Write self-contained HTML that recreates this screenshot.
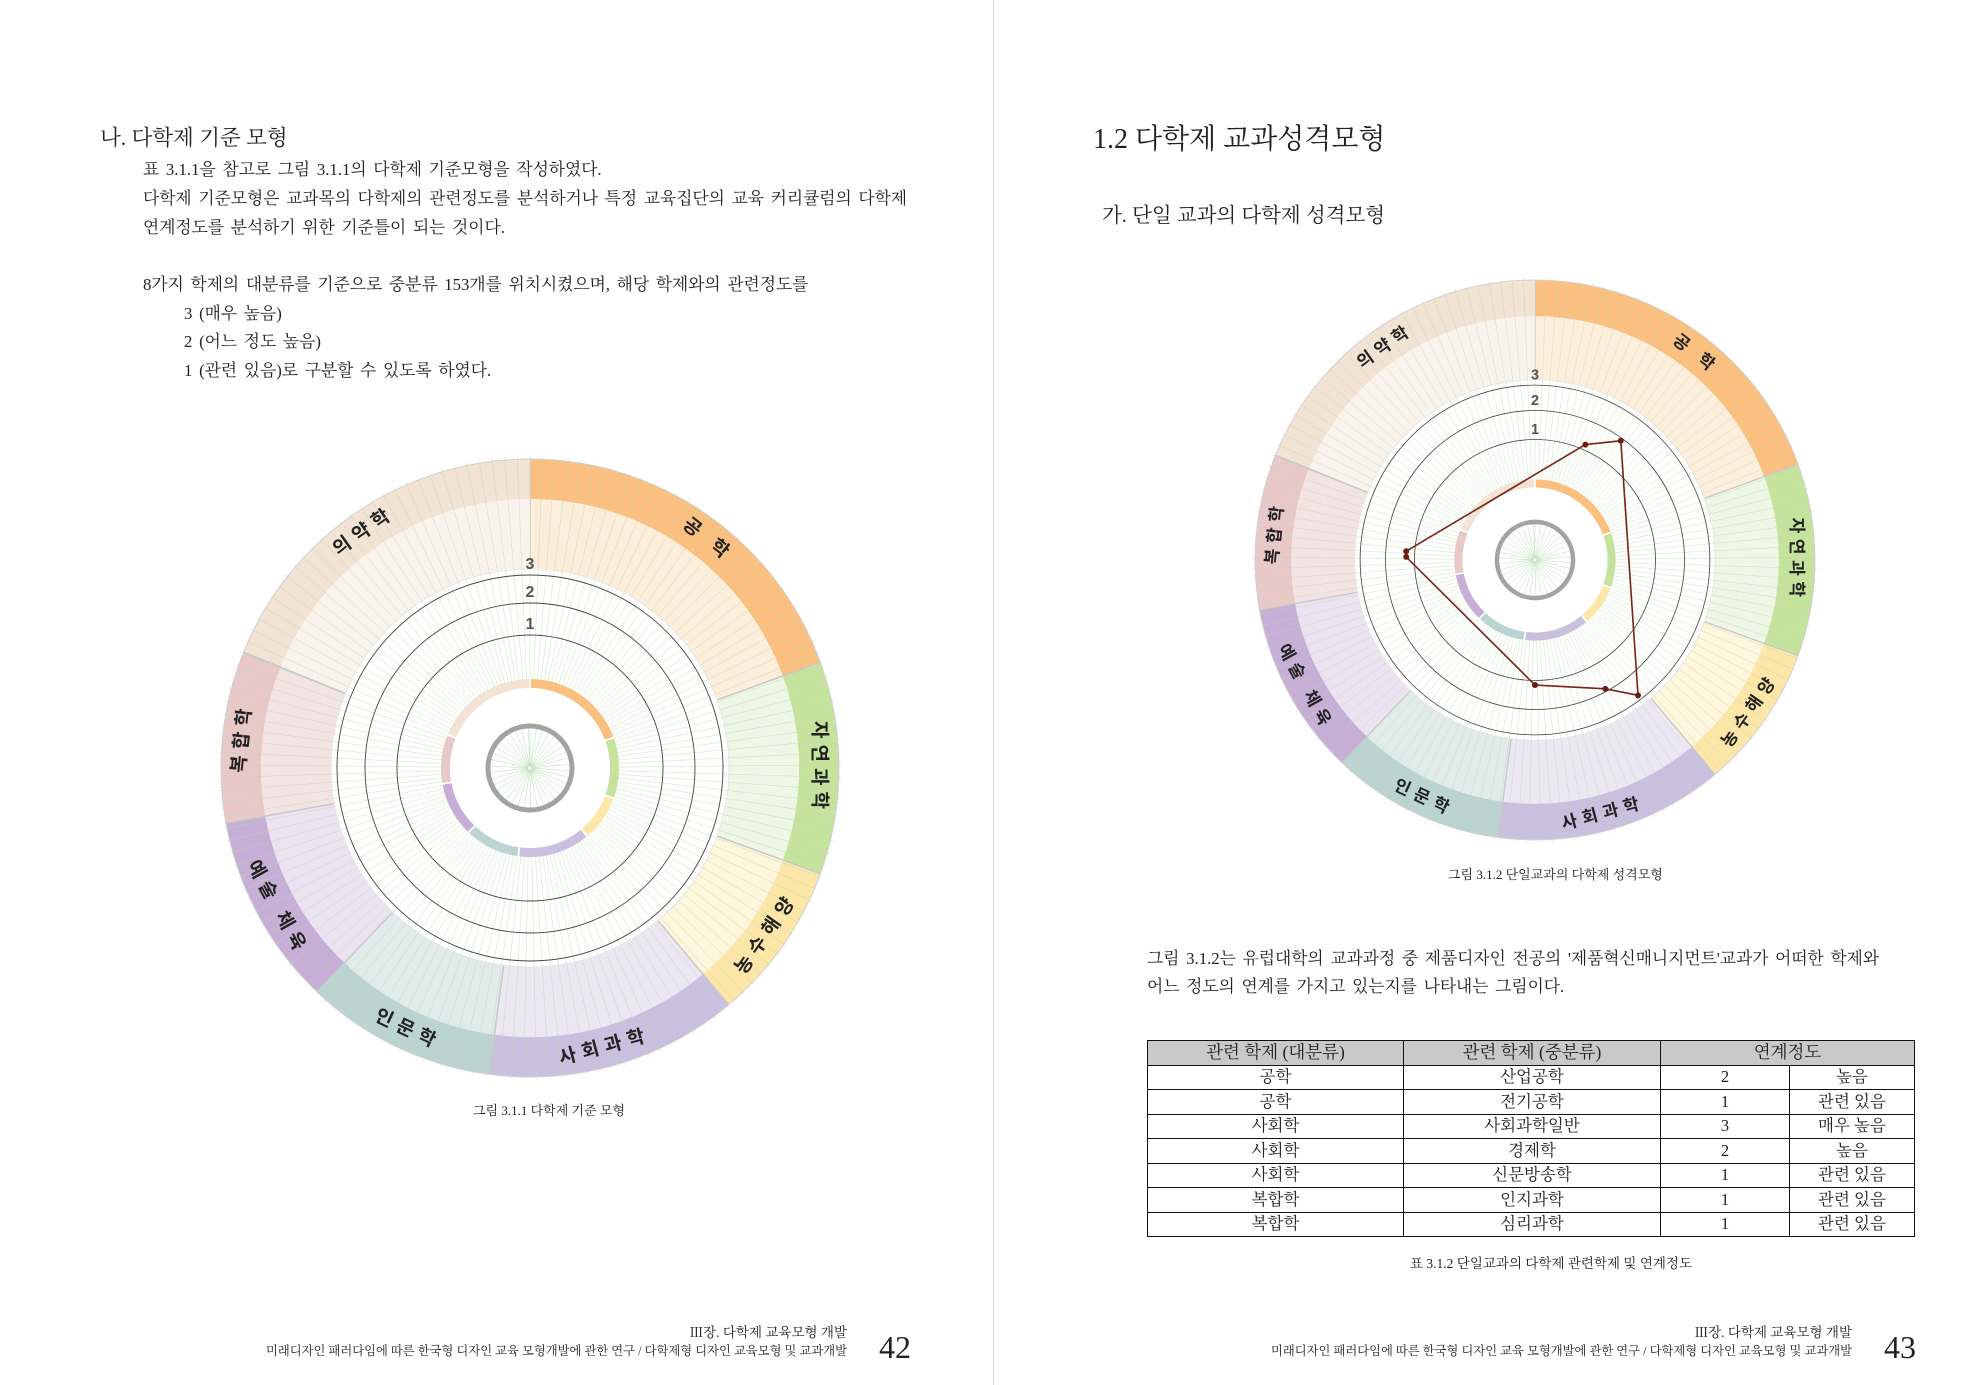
<!DOCTYPE html>
<html><head><meta charset="utf-8">
<style>
body{margin:0;background:#fff;}
#pg{position:relative;width:1976px;height:1385px;overflow:hidden;background:#fff;font-family:"Liberation Serif","Noto Serif CJK SC",serif;color:#222;}
.t{position:absolute;white-space:nowrap;line-height:1;}
.b{font-size:16.8px;word-spacing:2.5px;}
table{position:absolute;left:1147px;top:1040px;width:768px;border-collapse:collapse;font-size:16.5px;line-height:1;}
td,th{border:1.5px solid #111;height:23.5px;padding:0;text-align:center;font-weight:normal;}
th{background:#c9c9c9;font-size:17.5px;}
svg{position:absolute;left:0;top:0;}
</style></head><body><div id="pg">
<div style="position:absolute;left:993px;top:0;width:1px;height:1385px;background:#ddd"></div>

<div class="t" style="left:100px;top:128px;font-size:21.5px">나. 다학제 기준 모형</div>
<div class="t b" style="left:143px;top:162px">표 3.1.1을 참고로 그림 3.1.1의 다학제 기준모형을 작성하였다.</div>
<div class="t b" style="left:143px;top:191px">다학제 기준모형은 교과목의 다학제의 관련정도를 분석하거나 특정 교육집단의 교육 커리큘럼의 다학제</div>
<div class="t b" style="left:143px;top:220px">연계정도를 분석하기 위한 기준틀이 되는 것이다.</div>
<div class="t b" style="left:143px;top:277px">8가지 학제의 대분류를 기준으로 중분류 153개를 위치시켰으며, 해당 학제와의 관련정도를</div>
<div class="t b" style="left:184px;top:306px">3 (매우 높음)</div>
<div class="t b" style="left:184px;top:334px">2 (어느 정도 높음)</div>
<div class="t b" style="left:184px;top:363px">1 (관련 있음)로 구분할 수 있도록 하였다.</div>
<div class="t" style="left:473px;top:1104px;font-size:13px">그림 3.1.1 다학제 기준 모형</div>

<div class="t" style="left:1093px;top:126px;font-size:28px">1.2 다학제 교과성격모형</div>
<div class="t" style="left:1102px;top:206px;font-size:20.5px">가. 단일 교과의 다학제 성격모형</div>
<div class="t" style="left:1448px;top:868px;font-size:13px">그림 3.1.2 단일교과의 다학제 성격모형</div>
<div class="t b" style="left:1147px;top:951px">그림 3.1.2는 유럽대학의 교과과정 중 제품디자인 전공의 '제품혁신매니지먼트'교과가 어떠한 학제와</div>
<div class="t b" style="left:1147px;top:979px">어느 정도의 연계를 가지고 있는지를 나타내는 그림이다.</div>

<table>
<tr><th style="width:255px">관련 학제 (대분류)</th><th style="width:256px">관련 학제 (중분류)</th><th colspan="2">연계정도</th></tr>
<tr><td>공학</td><td>산업공학</td><td style="width:128px">2</td><td>높음</td></tr>
<tr><td>공학</td><td>전기공학</td><td>1</td><td>관련 있음</td></tr>
<tr><td>사회학</td><td>사회과학일반</td><td>3</td><td>매우 높음</td></tr>
<tr><td>사회학</td><td>경제학</td><td>2</td><td>높음</td></tr>
<tr><td>사회학</td><td>신문방송학</td><td>1</td><td>관련 있음</td></tr>
<tr><td>복합학</td><td>인지과학</td><td>1</td><td>관련 있음</td></tr>
<tr><td>복합학</td><td>심리과학</td><td>1</td><td>관련 있음</td></tr>
</table>
<div class="t" style="left:1410px;top:1257px;font-size:13.5px">표 3.1.2 단일교과의 다학제 관련학제 및 연계정도</div>

<div class="t" style="right:1129px;top:1326px;font-size:13.5px">Ⅲ장. 다학제 교육모형 개발</div>
<div class="t" style="right:1129px;top:1345px;font-size:12.3px">미래디자인 패러다임에 따른 한국형 디자인 교육 모형개발에 관한 연구 / 다학제형 디자인 교육모형 및 교과개발</div>
<div class="t" style="left:879px;top:1331px;font-size:32px">42</div>
<div class="t" style="right:124px;top:1326px;font-size:13.5px">Ⅲ장. 다학제 교육모형 개발</div>
<div class="t" style="right:124px;top:1345px;font-size:12.3px">미래디자인 패러다임에 따른 한국형 디자인 교육 모형개발에 관한 연구 / 다학제형 디자인 교육모형 및 교과개발</div>
<div class="t" style="left:1884px;top:1331px;font-size:32px">43</div>

<svg width="1976" height="1385" xmlns="http://www.w3.org/2000/svg" font-family="Liberation Sans,Noto Sans CJK KR,sans-serif">
<g id="c1" transform="translate(530,768)">
 <g class="geo"></g>
 <g class="lab" font-size="19" font-weight="bold" fill="#222" text-anchor="middle" dominant-baseline="central" letter-spacing="6">
  <text transform="rotate(38) translate(0,-289)">공 학</text>
  <text transform="rotate(90) translate(0,-289)">자연과학</text>
  <text transform="rotate(-55) translate(0,289)">농수해양</text>
  <text transform="rotate(-15) translate(0,289)">사회과학</text>
  <text transform="rotate(25) translate(0,289)">인문학</text>
  <text transform="rotate(61) translate(0,289)">예술 체육</text>
  <text transform="rotate(-84) translate(0,-289)">복합학</text>
  <text transform="rotate(-35) translate(0,-289)">의약학</text>
 </g>
 <g font-size="16" font-weight="bold" fill="#555" text-anchor="middle">
  <text x="0" y="-199">3</text><text x="0" y="-171">2</text><text x="0" y="-139">1</text>
 </g>
</g>
<g id="c2" transform="translate(1535,560) scale(0.906)">
 <g class="geo"></g>
 <g class="lab" font-size="19" font-weight="bold" fill="#222" text-anchor="middle" dominant-baseline="central" letter-spacing="6">
  <text transform="rotate(38) translate(0,-289)">공 학</text>
  <text transform="rotate(90) translate(0,-289)">자연과학</text>
  <text transform="rotate(-55) translate(0,289)">농수해양</text>
  <text transform="rotate(-15) translate(0,289)">사회과학</text>
  <text transform="rotate(25) translate(0,289)">인문학</text>
  <text transform="rotate(61) translate(0,289)">예술 체육</text>
  <text transform="rotate(-84) translate(0,-289)">복합학</text>
  <text transform="rotate(-35) translate(0,-289)">의약학</text>
 </g>
 <g font-size="16" font-weight="bold" fill="#555" text-anchor="middle">
  <text x="0" y="-199">3</text><text x="0" y="-171">2</text><text x="0" y="-139">1</text>
 </g>
 <polygon points="55.6,-127.4 94.7,-131.6 113.7,149.4 77.7,142.2 0,138 -142.2,-3.4 -142.2,-9.7" fill="none" stroke="#7a2518" stroke-width="1.8"/>
 <g fill="#6b1d10">
  <circle cx="55.6" cy="-127.4" r="3.3"/><circle cx="94.7" cy="-131.6" r="3.3"/><circle cx="113.7" cy="149.4" r="3.3"/><circle cx="77.7" cy="142.2" r="3.3"/><circle cx="0" cy="138" r="3.3"/><circle cx="-142.2" cy="-3.4" r="3.3"/><circle cx="-142.2" cy="-9.7" r="3.3"/>
 </g>
</g>
</svg>
<script>
(function(){
var NS="http://www.w3.org/2000/svg";
var segs=[[0,70,"#fbbf80","#fdeedc"],[70,110,"#c5e39c","#eef6e6"],[110,140,"#fde7a8","#fdf5dc"],[140,187.6,"#c9c0e0","#ebe8f3"],[187.6,223.6,"#bbd4d2","#e1ebea"],[223.6,259.7,"#c6aed6","#ebe3f1"],[259.7,292,"#e8c9c7","#f3e4e3"],[292,360,"#f2e3d4","#faf3ed"]];
function P(r,a){a=a*Math.PI/180;return [r*Math.sin(a),-r*Math.cos(a)];}
function arc(r1,r2,a1,a2){var p1=P(r2,a1),p2=P(r2,a2),p3=P(r1,a2),p4=P(r1,a1);var l=(a2-a1)>180?1:0;
return "M"+p1+"A"+r2+","+r2+" 0 "+l+" 1 "+p2+"L"+p3+"A"+r1+","+r1+" 0 "+l+" 0 "+p4+"Z";}
function el(g,t,at){var e=document.createElementNS(NS,t);for(var k in at)e.setAttribute(k,at[k]);g.appendChild(e);return e;}
document.querySelectorAll(".geo").forEach(function(g){
 segs.forEach(function(s){
  el(g,"path",{d:arc(269,309,s[0],s[1]),fill:s[2]});
  el(g,"path",{d:arc(199,269,s[0],s[1]),fill:s[3]});
  el(g,"path",{d:arc(80,89,s[0]+0.6,s[1]-0.6),fill:s[2]});
  var a=P(199,s[0]),b=P(309,s[0]);
  el(g,"line",{x1:a[0],y1:a[1],x2:b[0],y2:b[1],stroke:"#c8c8c8","stroke-width":1.5});
 });
 for(var i=0;i<153;i++){var an=i*360/153;var a=P(89,an),b=P(312,an),c=P(40,an),d=P(2,an);
  el(g,"line",{x1:a[0],y1:a[1],x2:b[0],y2:b[1],stroke:"#b9dcaa","stroke-width":0.5,opacity:0.8});
  if(i%4==0)el(g,"line",{x1:c[0],y1:c[1],x2:d[0],y2:d[1],stroke:"#9fd39a","stroke-width":0.4});
 }
 [[133,"#444"],[165,"#444"],[193,"#444"]].forEach(function(r){el(g,"circle",{r:r[0],fill:"none",stroke:r[1],"stroke-width":0.9});});
 el(g,"circle",{r:199,fill:"none",stroke:"#e6e6e6","stroke-width":1});
 el(g,"circle",{r:309,fill:"none",stroke:"#d0d0d0","stroke-width":1});
 el(g,"circle",{r:42,fill:"none",stroke:"#a3a3a3","stroke-width":5});
});
})();
</script>
</div></body></html>
